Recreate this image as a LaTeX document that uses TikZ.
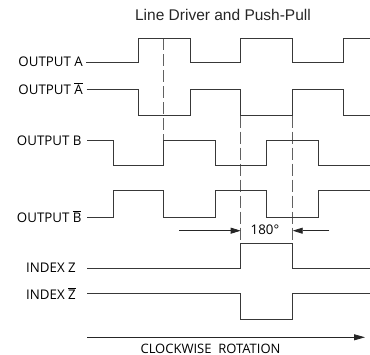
\documentclass[tikz,border=0pt]{standalone}
\usepackage{fontspec}
\setmainfont{Open Sans}
\newfontfamily\titlefont{Liberation Sans}
\usetikzlibrary{arrows.meta}
\newcommand{\ovbar}[1]{\ensuremath{\overline{\hbox{#1}}}}
\begin{document}
\begin{tikzpicture}[x=1pt,y=-1pt,
  sig/.style={line width=1pt, draw=black!78},
  guide/.style={line width=0.9pt, draw=black!62, dash pattern=on 12pt off 4pt},
  lbl/.style={anchor=base east, inner sep=0pt, font=\fontsize{13.3}{16}\selectfont, text=black},
  dimarrow/.style={line width=0.8pt, draw=black!85, -{Triangle[length=10pt,width=6pt]}},
  rotarrow/.style={line width=0.8pt, draw=black!85, -{Triangle[length=11pt,width=6pt]}}
]
\useasboundingbox (0,0) rectangle (370,355);

% title
\node[anchor=base, inner sep=0pt, font=\titlefont\fontsize{15.5}{18}\selectfont, text=black!85] (title) at (223,21) {Line Driver and Push-Pull};

% labels
\node[lbl] (la)  at (83,67)    {OUTPUT A};
\node[lbl] (lab) at (83,94.5)  {OUTPUT \ovbar{A}};
\node[lbl] (lb)  at (81.7,145.5) {OUTPUT B};
\node[lbl] (lbb) at (81.7,222.2) {OUTPUT \ovbar{B}};
\node[lbl] (lz)  at (76,273)   {INDEX Z};
\node[lbl] (lzb) at (76,299.5) {INDEX \ovbar{Z}};

% guide lines
\draw[guide] (163.3,38.3) -- (163.3,140.7);
\draw[guide] (240.7,115.7) -- (240.7,243.3);
\draw[guide] (292.7,115.7) -- (292.7,243.3);

% waveforms
\draw[sig] (86,62.7) -- (138,62.7) -- (138,38.3) -- (190,38.3) -- (190,62.7) -- (240.7,62.7) -- (240.7,38.3) -- (292.7,38.3) -- (292.7,62.7) -- (343.5,62.7) -- (343.5,38.3) -- (370,38.3);
\draw[sig] (86.7,90) -- (138,90) -- (138,115.7) -- (190,115.7) -- (190,90) -- (240.7,90) -- (240.7,115.7) -- (292.7,115.7) -- (292.7,90) -- (343.5,90) -- (343.5,115.7) -- (370,115.7);
\draw[sig] (87,140.7) -- (113.3,140.7) -- (113.3,166) -- (163.3,166) -- (163.3,140.7) -- (215.7,140.7) -- (215.7,166) -- (266.7,166) -- (266.7,140.7) -- (318.3,140.7) -- (318.3,166) -- (370,166);
\draw[sig] (87,217.3) -- (113.3,217.3) -- (113.3,191) -- (163.3,191) -- (163.3,217.3) -- (215.7,217.3) -- (215.7,191) -- (266.7,191) -- (266.7,217.3) -- (318.3,217.3) -- (318.3,191) -- (370,191);
\draw[sig] (87.3,268.3) -- (240.7,268.3) -- (240.7,243.3) -- (292.7,243.3) -- (292.7,268.3) -- (370,268.3);
\draw[sig] (87.3,294) -- (240.7,294) -- (240.7,319.3) -- (292.7,319.3) -- (292.7,294) -- (370,294);

% 180 degree dimension
\node[inner sep=0pt, font=\fontsize{13.3}{16}\selectfont, text=black] (deg) at (265,230) {180°};
\coordinate (dl0) at (179.3,230.7);
\coordinate (dl1) at (240.7,230.7);
\coordinate (dr0) at (329.3,230.7);
\coordinate (dr1) at (292.7,230.7);
\draw[dimarrow] (dl0) -- (dl1);
\draw[dimarrow] (dr0) -- (dr1);

% rotation arrow
\coordinate (r0) at (87,337.3);
\coordinate (r1) at (365,337.3);
\draw[rotarrow] (r0) -- (r1);
\node[anchor=base, inner sep=0pt, font=\fontsize{13}{16}\selectfont, text=black] (rot) at (210.5,353.3) {CLOCKWISE\ \ ROTATION};
\end{tikzpicture}
\end{document}
